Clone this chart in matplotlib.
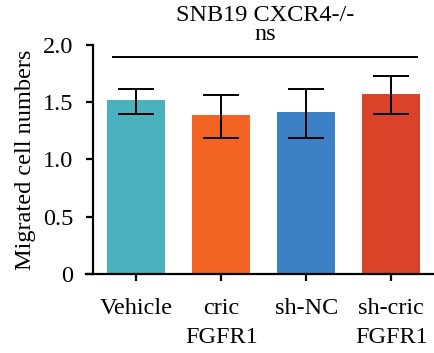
import matplotlib
matplotlib.use("Agg")
import matplotlib.pyplot as plt
import numpy as np

plt.rcParams['font.family'] = ['Liberation Serif', 'DejaVu Serif']

groups = ["Vehicle", "cric\nFGFR1", "sh-NC", "sh-cric\nFGFR1"]
means = [1.52, 1.39, 1.415, 1.57]
err_low = [1.40, 1.19, 1.19, 1.40]
err_high = [1.62, 1.565, 1.615, 1.725]
colors = ["#4BB1BE", "#F26324", "#3B80C4", "#DA4327"]
yticks = [0, 0.5, 1.0, 1.5, 2.0]
ytick_labels = ["0", "0.5", "1.0", "1.5", "2.0"]

fig = plt.figure(figsize=(4.34, 3.53), dpi=100)
ax = fig.add_axes([86 / 434, 0.224, 347 / 434, 0.6485])

x = np.arange(len(groups))
m = np.array(means)
yerr = [m - np.array(err_low), np.array(err_high) - m]
ax.bar(x, means, width=0.68, color=colors, zorder=2)
ax.errorbar(x, means, yerr=yerr, fmt="none", ecolor="black",
            elinewidth=1.4, capsize=13, capthick=1.4, zorder=3)

ax.set_xlim(-0.59, 3.49)
ax.set_ylim(0, 2.0)
ax.set_yticks(yticks)
ax.set_yticklabels(ytick_labels)
ax.set_xticks(x)
ax.set_xticklabels(groups, linespacing=1.5)

for s in ["top", "right"]:
    ax.spines[s].set_visible(False)
ax.spines["left"].set_position(("axes", 7 / 347))
ax.spines["left"].set_linewidth(1.6)
ax.spines["bottom"].set_linewidth(1.6)
ax.tick_params(axis="both", width=1.6, length=5, labelsize=17.5, direction="out")
ax.tick_params(axis="x", pad=12)
ax.tick_params(axis="y", pad=9)

ax.set_ylabel("Migrated cell numbers", fontsize=17.5, labelpad=5)

# significance bracket
ax.plot([-0.27, 3.3], [1.895, 1.895], color="black", lw=1.4, clip_on=False)
ax.text(1.52, 2.0, "ns", ha="center", va="bottom", fontsize=17.5)
ax.text(1.52, 2.17, "SNB19 CXCR4-/-", ha="center", va="bottom", fontsize=17.5)

fig.savefig("out.png", dpi=100)
